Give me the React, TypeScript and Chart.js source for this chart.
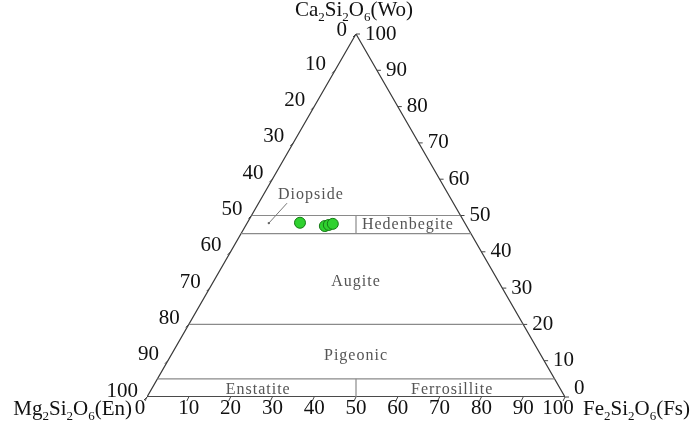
import React, { useEffect, useRef } from 'react';
import { Chart, registerables } from 'chart.js';

Chart.register(...registerables);

// ---- data (ternary compositions, %) ----
const TICK_VALUES = [0, 10, 20, 30, 40, 50, 60, 70, 80, 90, 100];
const BOUNDARY_WO = [50, 45, 20, 5];
const DIVIDER_WO_FROM = [45, 0];
const DIVIDER_WO_TO = [50, 5];
const SAMPLE_WO = [48.0, 47.1, 47.4, 47.7];
const SAMPLE_EN = [39.4, 33.9, 32.8, 31.7];
const SAMPLE_FS = [12.6, 19.0, 19.8, 20.6];
const FIELD_NAMES = ['Diopside', 'Hedenbegite', 'Augite', 'Pigeonic', 'Enstatite', 'Ferrosillite'];
const FIELD_WO = [55.6, 47.4, 31.7, 11.3, 1.9, 1.9];
const FIELD_FS = [11.4, 38.7, 34.15, 44.35, 25.65, 72.05];
const LEADER_WO = [53.4, 47.9];
const LEADER_FS = [6.8, 5.2];
const APEX_TITLE = 'Ca_2Si_2O_6(Wo)';
const LEFT_TITLE = 'Mg_2Si_2O_6(En)';
const RIGHT_TITLE = 'Fe_2Si_2O_6(Fs)';

const H = Math.sqrt(3) / 2;
// ternary (Wo, Fs) -> cartesian
const tx = (wo: number, fs: number) => ({ x: fs + wo / 2, y: wo * H });

const SERIF = '"Liberation Serif", "Times New Roman", serif';

function drawFormula(ctx: CanvasRenderingContext2D, text: string, x: number, y: number, align: 'left' | 'center' | 'right', size: number) {
  const parts: { t: string; sub: boolean }[] = [];
  const re = /_(\d)|([^_]+?)(?=_|$)/g;
  let m: RegExpExecArray | null;
  while ((m = re.exec(text)) !== null) {
    if (m[1]) parts.push({ t: m[1], sub: true });
    else if (m[2]) parts.push({ t: m[2], sub: false });
  }
  const main = `${size}px ${SERIF}`;
  const small = `${Math.round(size * 0.62)}px ${SERIF}`;
  let w = 0;
  for (const p of parts) {
    ctx.font = p.sub ? small : main;
    w += ctx.measureText(p.t).width;
  }
  let cx = align === 'left' ? x : align === 'right' ? x - w : x - w / 2;
  ctx.textAlign = 'left';
  ctx.textBaseline = 'alphabetic';
  for (const p of parts) {
    ctx.font = p.sub ? small : main;
    ctx.fillText(p.t, cx, p.sub ? y + size * 0.25 : y);
    cx += ctx.measureText(p.t).width;
  }
}

const ternaryPlugin = {
  id: 'ternaryDecor',
  afterDraw(chart: any) {
    const ctx: CanvasRenderingContext2D = chart.ctx;
    const xs = chart.scales.x;
    const ys = chart.scales.y;
    const px = (wo: number, fs: number) => {
      const c = tx(wo, fs);
      return { x: xs.getPixelForValue(c.x), y: ys.getPixelForValue(c.y) };
    };
    ctx.save();
    // ticks
    ctx.strokeStyle = '#444';
    ctx.lineWidth = 1;
    for (const v of TICK_VALUES) {
      const l = px(100 - v, 0);
      ctx.beginPath(); ctx.moveTo(l.x, l.y); ctx.lineTo(l.x - 3, l.y + 3); ctx.stroke();
      const r = px(v, 100 - v);
      ctx.beginPath(); ctx.moveTo(r.x, r.y); ctx.lineTo(r.x + 4, r.y); ctx.stroke();
      const b = px(0, v);
      ctx.beginPath(); ctx.moveTo(b.x, b.y); ctx.lineTo(b.x - 2, b.y + 4); ctx.stroke();
    }
    // tick labels
    ctx.fillStyle = '#111';
    ctx.font = `21px ${SERIF}`;
    ctx.textBaseline = 'middle';
    for (const v of TICK_VALUES) {
      const l = px(100 - v, 0);
      ctx.textAlign = 'right';
      ctx.fillText(String(v), l.x - 9, v === 0 ? l.y - 4 : l.y - 6);
      const r = px(v, 100 - v);
      ctx.textAlign = 'left';
      ctx.fillText(String(v), r.x + 9, v === 0 ? r.y - 9 : r.y);
      const b = px(0, v);
      ctx.textAlign = 'center';
      const shift = v === 0 || v === 100 ? -7 : 0;
      ctx.fillText(String(v), b.x + shift, b.y + 11);
    }
    // vertex titles
    const apex = px(100, 0);
    drawFormula(ctx, APEX_TITLE, apex.x - 2, apex.y - 18, 'center', 21);
    const bl = px(0, 0);
    drawFormula(ctx, LEFT_TITLE, bl.x - 15, bl.y + 18, 'right', 21);
    const br = px(0, 100);
    drawFormula(ctx, RIGHT_TITLE, br.x + 18, br.y + 18, 'left', 21);
    // field names
    ctx.fillStyle = '#555';
    ctx.font = `16px ${SERIF}`;
    (ctx as any).letterSpacing = '1px';
    ctx.textAlign = 'center';
    ctx.textBaseline = 'middle';
    FIELD_NAMES.forEach((name, i) => {
      const p = px(FIELD_WO[i], FIELD_FS[i]);
      ctx.fillText(name, p.x, p.y);
    });
    ctx.restore();
  },
};

export default function App() {
  const ref = useRef<HTMLCanvasElement>(null);
  useEffect(() => {
    if (!ref.current) return;
    const lineDs = (pts: { x: number; y: number }[], color: string, width: number) => ({
      type: 'line' as const,
      data: pts,
      borderColor: color,
      borderWidth: width,
      pointRadius: 0,
      fill: false,
      tension: 0,
    });
    const datasets: any[] = [];
    datasets.push({
      type: 'scatter',
      data: SAMPLE_WO.map((wo, i) => tx(wo, SAMPLE_FS[i] ?? 100 - wo - SAMPLE_EN[i])),
      backgroundColor: '#2fd12f',
      borderColor: '#157a15',
      borderWidth: 1,
      pointRadius: 5.5,
    });
    datasets.push({
      type: 'scatter',
      data: [tx(LEADER_WO[1], LEADER_FS[1])],
      backgroundColor: '#666',
      borderWidth: 0,
      pointRadius: 1.2,
    });
    datasets.push(lineDs(LEADER_WO.map((w, i) => tx(w, LEADER_FS[i])), '#777', 1));
    BOUNDARY_WO.forEach((w) => datasets.push(lineDs([tx(w, 0), tx(w, 100 - w)], '#8a8a8a', 1.2)));
    DIVIDER_WO_FROM.forEach((w, i) => {
      const a = tx(w, (100 - w) / 2);
      const b = tx(DIVIDER_WO_TO[i], (100 - DIVIDER_WO_TO[i]) / 2);
      datasets.push(lineDs([a, b], '#8a8a8a', 1.2));
    });
    datasets.push(lineDs([tx(0, 0), tx(100, 0), tx(0, 100)], '#3a3a3a', 1.2));
    datasets.push(lineDs([tx(0, 0), tx(0, 100)], '#4a4a4a', 2));

    const chart = new Chart(ref.current, {
      type: 'scatter',
      data: { datasets },
      options: {
        responsive: false,
        animation: false,
        layout: { padding: { left: 147, right: 135, top: 34, bottom: 28 } },
        plugins: { legend: { display: false }, tooltip: { enabled: false } },
        scales: {
          x: { type: 'linear', min: 0, max: 100, display: false },
          y: { type: 'linear', min: 0, max: 100 * H, display: false },
        },
      },
      plugins: [ternaryPlugin],
    } as any);
    return () => chart.destroy();
  }, []);
  return (
    <div style={{ position: 'fixed', left: 0, top: 0, width: 700, height: 425, background: '#fff' }}>
      <canvas ref={ref} width={700} height={425} />
    </div>
  );
}
